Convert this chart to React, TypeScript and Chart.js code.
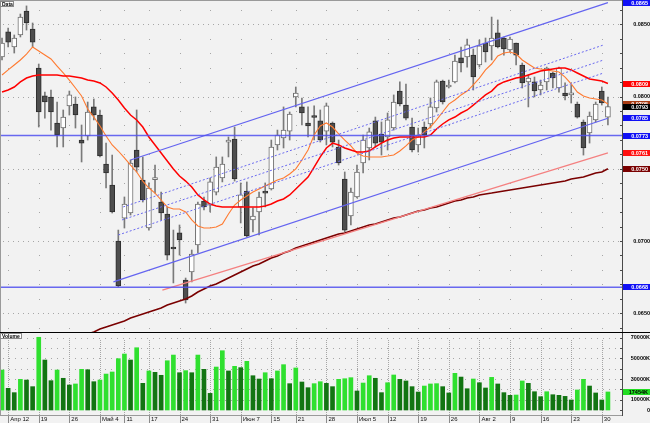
import React, { useEffect, useRef } from "react";
import { Chart, registerables } from "chart.js";

Chart.register(...registerables);

const FONT = '"Liberation Sans", "DejaVu Sans", sans-serif';

// ---- data: daily candles Apr 9 .. Aug 31 ----
const weekTickIndex = [1, 6, 11, 16, 20, 24, 29, 34, 39, 44, 48, 53, 58, 63, 68, 73, 78, 83, 88, 93, 98];
const weekTickLabels = ["Апр 12", "19", "26", "Май 4", "11", "17", "24", "31", "Июн 7", "15", "21", "28", "Июл 5", "12", "19", "26", "Авг 2", "9", "16", "23", "30"];

const openP = [
  0.08274, 0.08447, 0.08343, 0.08426, 0.08592, 0.08467, 0.08197, 0.08004, 0.07997, 0.07817,
  0.07782, 0.07935, 0.07948, 0.07699, 0.07727, 0.07928, 0.07872, 0.07533, 0.07388, 0.07000,
  0.07159, 0.07194, 0.07630, 0.07422, 0.07090, 0.07425, 0.07270, 0.07187, 0.06952, 0.07056,
  0.06730, 0.06786, 0.06973, 0.07277, 0.07249, 0.07339, 0.07436, 0.07685, 0.07706, 0.07236,
  0.07346, 0.07146, 0.07201, 0.07339, 0.07360, 0.07665, 0.07713, 0.07761, 0.07997, 0.07928,
  0.07817, 0.07858, 0.07831, 0.07761, 0.07817, 0.07651, 0.07429, 0.07173, 0.07305, 0.07540,
  0.07644, 0.07831, 0.07741, 0.07720, 0.07782, 0.08038, 0.07941, 0.07789, 0.07665, 0.07789,
  0.07810, 0.07921, 0.08107, 0.08066, 0.08101, 0.08267, 0.08274, 0.08287, 0.08218, 0.08370,
  0.08350, 0.08440, 0.08405, 0.08322, 0.08370, 0.08218, 0.08101, 0.08101, 0.08045, 0.08101,
  0.08163, 0.08059, 0.08024, 0.08011, 0.07948, 0.07824, 0.07748, 0.07838, 0.08038, 0.07858,
];
const highP = [
  0.08405, 0.08474, 0.08426, 0.08571, 0.08627, 0.08509, 0.08225, 0.08031, 0.08045, 0.07962,
  0.07907, 0.08038, 0.07997, 0.07803, 0.07962, 0.07983, 0.07907, 0.07678, 0.07595, 0.07076,
  0.07305, 0.07561, 0.07907, 0.07582, 0.07402, 0.07526, 0.07339, 0.07236, 0.07076, 0.07111,
  0.06744, 0.06938, 0.07270, 0.07305, 0.07436, 0.07582, 0.07582, 0.07720, 0.07789, 0.07402,
  0.07409, 0.07229, 0.07339, 0.07402, 0.07699, 0.07768, 0.07928, 0.07893, 0.08066, 0.07990,
  0.07928, 0.07935, 0.07907, 0.07955, 0.07824, 0.07699, 0.07478, 0.07367, 0.07526, 0.07734,
  0.07782, 0.07858, 0.07824, 0.07886, 0.08011, 0.08101, 0.08087, 0.07851, 0.07782, 0.07824,
  0.07990, 0.08114, 0.08114, 0.08114, 0.08287, 0.08343, 0.08398, 0.08329, 0.08391, 0.08405,
  0.08550, 0.08530, 0.08412, 0.08412, 0.08370, 0.08232, 0.08149, 0.08135, 0.08114, 0.08204,
  0.08170, 0.08204, 0.08094, 0.08080, 0.07962, 0.07838, 0.07893, 0.07962, 0.08066, 0.07997,
];
const lowP = [
  0.08253, 0.08343, 0.08301, 0.08412, 0.08460, 0.08343, 0.07789, 0.07851, 0.07768, 0.07651,
  0.07651, 0.07872, 0.07782, 0.07547, 0.07699, 0.07838, 0.07582, 0.07367, 0.07194, 0.06682,
  0.07090, 0.07180, 0.07478, 0.07270, 0.07076, 0.07332, 0.07146, 0.06869, 0.06710, 0.06903,
  0.06571, 0.06717, 0.06917, 0.07215, 0.07201, 0.07319, 0.07409, 0.07582, 0.07415, 0.07125,
  0.07028, 0.07063, 0.07042, 0.07236, 0.07353, 0.07630, 0.07644, 0.07699, 0.07928, 0.07803,
  0.07720, 0.07699, 0.07685, 0.07665, 0.07651, 0.07526, 0.07063, 0.07111, 0.07298, 0.07471,
  0.07561, 0.07651, 0.07595, 0.07630, 0.07768, 0.07935, 0.07838, 0.07616, 0.07616, 0.07644,
  0.07782, 0.07893, 0.07948, 0.08059, 0.08094, 0.08170, 0.08204, 0.08045, 0.08204, 0.08239,
  0.08253, 0.08336, 0.08287, 0.08308, 0.08218, 0.08059, 0.07928, 0.07997, 0.08011, 0.08045,
  0.08059, 0.08031, 0.07976, 0.07955, 0.07851, 0.07595, 0.07678, 0.07824, 0.07941, 0.07803,
];
const closeP = [
  0.08370, 0.08377, 0.08405, 0.08550, 0.08509, 0.08377, 0.07893, 0.07962, 0.07893, 0.07734,
  0.07858, 0.08011, 0.07872, 0.07678, 0.07893, 0.07872, 0.07589, 0.07471, 0.07201, 0.06689,
  0.07256, 0.07540, 0.07512, 0.07284, 0.07367, 0.07429, 0.07194, 0.06903, 0.06945, 0.07007,
  0.06592, 0.06910, 0.07256, 0.07236, 0.07409, 0.07512, 0.07533, 0.07688, 0.07429, 0.07319,
  0.07035, 0.07173, 0.07305, 0.07332, 0.07651, 0.07734, 0.07768, 0.07879, 0.08024, 0.07886,
  0.07796, 0.07855, 0.07699, 0.07935, 0.07685, 0.07540, 0.07076, 0.07339, 0.07478, 0.07699,
  0.07755, 0.07678, 0.07685, 0.07838, 0.07962, 0.07948, 0.07851, 0.07630, 0.07734, 0.07734,
  0.07928, 0.08101, 0.07962, 0.08080, 0.08246, 0.08232, 0.08357, 0.08135, 0.08350, 0.08308,
  0.08405, 0.08343, 0.08329, 0.08398, 0.08287, 0.08094, 0.08128, 0.08038, 0.08080, 0.08197,
  0.08128, 0.08197, 0.08004, 0.08014, 0.07858, 0.07644, 0.07865, 0.07948, 0.07955, 0.07930,
];
const volumeK = [
  38700, 21000, 16800, 29700, 29000, 22600, 70400, 48400, 28400, 38700,
  30700, 24200, 25200, 39400, 39000, 27400, 29000, 34800, 36800, 49700,
  54200, 48400, 60300, 25800, 37800, 36500, 33600, 47700, 53200, 36100,
  38100, 36100, 53200, 39400, 16100, 41600, 57400, 37800, 42300, 41000,
  47100, 33200, 30000, 36100, 30300, 37800, 43900, 25500, 40700, 27100,
  21600, 25500, 27400, 25800, 22600, 29700, 30300, 31300, 18400, 26100,
  33200, 30700, 16800, 26400, 33900, 29700, 28100, 22600, 17400, 23200,
  25200, 25500, 22600, 16500, 35500, 31900, 20600, 30000, 26400, 21300,
  31600, 25200, 16800, 14200, 14500, 28100, 25800, 17700, 12900, 17700,
  14800, 14200, 13200, 9700, 19400, 29700, 23200, 16500, 9700, 17454,
];
const maFast = [
  0.08149, 0.08184, 0.08218, 0.08253, 0.08294, 0.08343, 0.08315, 0.08287, 0.08260, 0.08211,
  0.08163, 0.08114, 0.08059, 0.08004, 0.07914, 0.07858, 0.07796, 0.07727, 0.07665, 0.07623,
  0.07575, 0.07526, 0.07478, 0.07415, 0.07367, 0.07332, 0.07284, 0.07236, 0.07222, 0.07222,
  0.07201, 0.07146, 0.07104, 0.07090, 0.07090, 0.07097, 0.07118, 0.07187, 0.07249, 0.07284,
  0.07312, 0.07339, 0.07360, 0.07381, 0.07402, 0.07422, 0.07436, 0.07464, 0.07499, 0.07561,
  0.07630, 0.07734, 0.07796, 0.07817, 0.07789, 0.07741, 0.07699, 0.07658, 0.07609, 0.07588,
  0.07582, 0.07582, 0.07582, 0.07588, 0.07595, 0.07623, 0.07658, 0.07699, 0.07720, 0.07755,
  0.07789, 0.07838, 0.07893, 0.07948, 0.07976, 0.08011, 0.08038, 0.08080, 0.08128, 0.08184,
  0.08225, 0.08281, 0.08301, 0.08308, 0.08294, 0.08253, 0.08225, 0.08197, 0.08191, 0.08184,
  0.08177, 0.08170, 0.08135, 0.08087, 0.08031, 0.08004, 0.07990, 0.07983, 0.07976, 0.07948,
];
const maMid = [
  0.08031, 0.08045, 0.08066, 0.08101, 0.08128, 0.08142, 0.08149, 0.08149, 0.08149, 0.08149,
  0.08142, 0.08142, 0.08135, 0.08128, 0.08114, 0.08107, 0.08094, 0.08066, 0.08024, 0.07976,
  0.07921, 0.07872, 0.07838, 0.07789, 0.07720, 0.07665, 0.07609, 0.07554, 0.07499, 0.07450,
  0.07415, 0.07374, 0.07319, 0.07284, 0.07256, 0.07242, 0.07236, 0.07236, 0.07236, 0.07236,
  0.07236, 0.07236, 0.07236, 0.07242, 0.07256, 0.07277, 0.07291, 0.07319, 0.07360, 0.07402,
  0.07443, 0.07512, 0.07582, 0.07644, 0.07678, 0.07665, 0.07644, 0.07630, 0.07616, 0.07616,
  0.07623, 0.07651, 0.07678, 0.07699, 0.07713, 0.07720, 0.07720, 0.07720, 0.07720, 0.07720,
  0.07734, 0.07775, 0.07810, 0.07838, 0.07858, 0.07886, 0.07907, 0.07941, 0.07976, 0.08011,
  0.08038, 0.08080, 0.08101, 0.08114, 0.08128, 0.08135, 0.08149, 0.08163, 0.08177, 0.08184,
  0.08191, 0.08198, 0.08198, 0.08184, 0.08163, 0.08142, 0.08121, 0.08114, 0.08107, 0.08090,
];
const maSlow = [
  null, null, null, null, null, null, null, null, null, null,
  null, null, 0.06322, 0.06343, 0.06357, 0.06371, 0.06391, 0.06405, 0.06419, 0.06433,
  0.06447, 0.06467, 0.06481, 0.06495, 0.06509, 0.06523, 0.06537, 0.06557, 0.06571, 0.06585,
  0.06599, 0.06620, 0.06647, 0.06668, 0.06689, 0.06703, 0.06724, 0.06744, 0.06765, 0.06786,
  0.06807, 0.06827, 0.06841, 0.06862, 0.06883, 0.06896, 0.06917, 0.06931, 0.06952, 0.06966,
  0.06980, 0.06993, 0.07007, 0.07021, 0.07035, 0.07049, 0.07056, 0.07069, 0.07083, 0.07097,
  0.07111, 0.07118, 0.07132, 0.07146, 0.07159, 0.07166, 0.07180, 0.07194, 0.07208, 0.07215,
  0.07229, 0.07236, 0.07249, 0.07263, 0.07277, 0.07284, 0.07298, 0.07305, 0.07319, 0.07326,
  0.07332, 0.07339, 0.07346, 0.07353, 0.07360, 0.07367, 0.07374, 0.07381, 0.07388, 0.07395,
  0.07402, 0.07409, 0.07415, 0.07429, 0.07436, 0.07443, 0.07457, 0.07471, 0.07478, 0.07500,
];

// drawn channel / trend objects (bar index, price)
const channelUpper = [{ x: 21, y: 0.07561 }, { x: 99, y: 0.0865 }];
const channelLower = [{ x: 18.2, y: 0.06717 }, { x: 99, y: 0.0785 }];
const channelInnerA = [{ x: 19.8, y: 0.07236 }, { x: 98.3, y: 0.08357 }];
const channelMid = [{ x: 19.6, y: 0.07146 }, { x: 98.3, y: 0.08253 }];
const channelInnerC = [{ x: 19, y: 0.07042 }, { x: 98.3, y: 0.08163 }];
const trendPink = [{ x: 26.2, y: 0.06661 }, { x: 99, y: 0.0761 }];
const levelUpper = 0.0773;
const levelLower = 0.0668;

const priceLabelTicks = [0.065, 0.07, 0.075, 0.08, 0.085];
const volumeLabelTicks = [0, 10000, 30000, 50000, 70000];

// scale ranges
const X_MIN = -0.33;
const X_MAX = 101.3;
const PRICE_MIN = 0.063636;
const PRICE_MAX = 0.08668;
const VOL_MIN = -4841;
const VOL_MAX = 73582;

const BG = "#f2f2f2";
const DOT = "#a6a6a6";

function drawTag(ctx: any, x: number, y: number, w: number, h: number, text: string) {
  ctx.fillStyle = "#ffffff";
  ctx.fillRect(x, y, w, h);
  ctx.strokeStyle = "#8a8a8a";
  ctx.lineWidth = 1;
  ctx.strokeRect(x + 0.5, y + 0.5, w - 1, h - 1);
  ctx.fillStyle = "#000";
  ctx.font = `bold 5px ${FONT}`;
  ctx.textAlign = "left";
  ctx.textBaseline = "middle";
  ctx.fillText(text, x + 2, y + h / 2 + 0.5);
}

function drawValueBox(ctx: any, chart: any, value: number, text: string, bg: string, fg: string) {
  const a = chart.chartArea;
  const y = chart.scales.y;
  let py = y.getPixelForValue(value);
  py = Math.max(3, Math.min(chart.height - 4, py));
  const top = Math.round(py - 3);
  ctx.fillStyle = bg;
  ctx.fillRect(a.right + 1, top, chart.width - a.right - 1, 6);
  ctx.fillStyle = fg;
  ctx.font = `bold 5.5px ${FONT}`;
  ctx.textAlign = "right";
  ctx.textBaseline = "middle";
  ctx.fillText(text, chart.width - 2, top + 3.3);
}

const priceDecor = {
  id: "priceDecor",
  beforeDraw(chart: any) {
    const { ctx, width, height } = chart;
    ctx.save();
    ctx.fillStyle = BG;
    ctx.fillRect(0, 0, width, height);
    ctx.restore();
  },
  beforeDatasetsDraw(chart: any) {
    const { ctx, chartArea: a } = chart;
    const x = chart.scales.x;
    const y = chart.scales.y;
    ctx.save();
    ctx.fillStyle = DOT;
    const first = Math.ceil(y.min * 1000);
    const last = Math.floor(y.max * 1000);
    for (let k = first; k <= last; k++) {
      const py = Math.round(y.getPixelForValue(k / 1000));
      if (k % 5 === 0) {
        for (let px = a.left + 3; px < a.right - 1; px += 5) ctx.fillRect(px, py, 1, 1);
      } else {
        for (const idx of weekTickIndex) ctx.fillRect(Math.round(x.getPixelForValue(idx)), py, 1, 1);
      }
    }
    ctx.restore();
  },
  afterDraw(chart: any) {
    const { ctx, width, height, chartArea: a } = chart;
    const y = chart.scales.y;
    ctx.save();
    ctx.fillStyle = "#9a9a9a";
    ctx.fillRect(0, 0, width, 1);
    ctx.fillRect(0, 0, 1, height);
    ctx.fillStyle = "#4a4a4a";
    ctx.fillRect(a.right, 0, 1, height);
    const first = Math.ceil(y.min * 1000);
    const last = Math.floor(y.max * 1000);
    for (let k = first; k <= last; k++) {
      const py = Math.round(y.getPixelForValue(k / 1000));
      ctx.fillRect(a.right - 2, py, 2, 1);
    }
    ctx.fillStyle = "#000";
    ctx.fillRect(0, height - 1, width, 1);

    const n = closeP.length - 1;
    const boxes: [number, string, string][] = [
      [maFast[n], "#a83c14", "#fff"],
      [channelUpper[1].y, "#1010f5", "#fff"],
      [maMid[n], "#ff0000", "#fff"],
      [closeP[n], "#000000", "#fff"],
      [channelLower[1].y, "#1010f5", "#fff"],
      [levelUpper, "#1010f5", "#fff"],
      [trendPink[1].y, "#ff1010", "#fff"],
      [maSlow[n] as number, "#7a0000", "#fff"],
      [levelLower, "#1010f5", "#fff"],
    ];
    for (const [v, bg, fg] of boxes) drawValueBox(ctx, chart, v, v.toFixed(4), bg, fg);

    drawTag(ctx, 0, 1, 14, 6, "Data");
    ctx.restore();
  },
};

const volumeDecor = {
  id: "volumeDecor",
  beforeDraw(chart: any) {
    const { ctx, width, height } = chart;
    ctx.save();
    ctx.fillStyle = BG;
    ctx.fillRect(0, 0, width, height);
    ctx.restore();
  },
  beforeDatasetsDraw(chart: any) {
    const { ctx, chartArea: a } = chart;
    const x = chart.scales.x;
    const y = chart.scales.y;
    ctx.save();
    ctx.fillStyle = DOT;
    for (const idx of weekTickIndex) {
      const px = Math.round(x.getPixelForValue(idx));
      for (let py = a.top + 6; py < a.bottom; py += 2) ctx.fillRect(px, py, 1, 1);
    }
    for (let v = 10000; v <= 70000; v += 10000) {
      const py = Math.round(y.getPixelForValue(v));
      for (let px = a.left + 3; px < a.right - 1; px += 6) ctx.fillRect(px, py, 1, 1);
    }
    ctx.restore();
  },
  afterDraw(chart: any) {
    const { ctx, width, chartArea: a } = chart;
    const x = chart.scales.x;
    const y = chart.scales.y;
    ctx.save();
    ctx.fillStyle = "#9a9a9a";
    ctx.fillRect(0, 0, 1, a.bottom);
    ctx.fillRect(0, a.bottom, a.right, 1);
    ctx.fillStyle = "#4a4a4a";
    ctx.fillRect(a.right, 0, 1, a.bottom + 1);
    for (let v = 0; v <= 70000; v += 10000) {
      const py = Math.round(y.getPixelForValue(v));
      ctx.fillRect(a.right - 2, py, 2, 1);
    }
    ctx.fillStyle = "#8a8a8a";
    for (const idx of weekTickIndex) {
      const px = Math.round(x.getPixelForValue(idx));
      ctx.fillRect(px, a.bottom + 1, 1, 7);
    }
    const n = volumeK.length - 1;
    const v = volumeK[n];
    let py = Math.round(y.getPixelForValue(v) - 3);
    ctx.fillStyle = "#22dd22";
    ctx.fillRect(a.right + 1, py, width - a.right - 1, 6);
    ctx.fillStyle = "#000";
    ctx.font = `bold 5.5px ${FONT}`;
    ctx.textAlign = "right";
    ctx.textBaseline = "middle";
    ctx.fillText(`${v}K`, width - 2, py + 3.3);

    drawTag(ctx, 0, 0, 22, 6, "Volume");
    ctx.restore();
  },
};

function lineSet(data: any[], color: string, width: number, dash: number[] = []) {
  return {
    type: "line",
    data,
    borderColor: color,
    borderWidth: width,
    borderDash: dash,
    pointRadius: 0,
    tension: 0,
    fill: false,
    order: 0,
  };
}

export default function App() {
  const priceRef = useRef<HTMLCanvasElement | null>(null);
  const volRef = useRef<HTMLCanvasElement | null>(null);

  useEffect(() => {
    const idx = closeP.map((_, i) => i);
    const bull = idx.map((i) => closeP[i] >= openP[i]);

    const priceChart = new Chart(priceRef.current as any, {
      type: "bar",
      data: {
        datasets: [
          lineSet([{ x: X_MIN, y: levelUpper }, { x: X_MAX, y: levelUpper }], "rgba(80,80,240,0.85)", 1.4),
          lineSet([{ x: X_MIN, y: levelLower }, { x: X_MAX, y: levelLower }], "rgba(80,80,240,0.85)", 1.4),
          lineSet(channelUpper, "#6464f0", 1.2),
          lineSet(channelLower, "#6464f0", 1.2),
          lineSet(channelInnerA, "#6a6af0", 1, [2, 2]),
          lineSet(channelMid, "#6a6af0", 1, [2, 2]),
          lineSet(channelInnerC, "#6a6af0", 1, [2, 2]),
          lineSet(trendPink, "#f48080", 1.3),
          lineSet(maSlow.map((v, i) => ({ x: i, y: v })), "#7a0000", 1.6),
          lineSet(maMid.map((v, i) => ({ x: i, y: v })), "#ff0000", 1.5),
          lineSet(maFast.map((v, i) => ({ x: i, y: v })), "#ff7a30", 1.1),
          {
            type: "bar",
            data: idx.map((i) => ({ x: i, y: [openP[i], closeP[i]] })),
            backgroundColor: idx.map((i) => (bull[i] ? "#ffffff" : "#4e4e4e")),
            borderColor: idx.map((i) => (bull[i] ? "#6e6e6e" : "#2e2e2e")),
            borderWidth: 1,
            borderSkipped: false,
            barThickness: 5,
            minBarLength: 2,
            grouped: false,
            order: 1,
          },
          {
            type: "bar",
            data: idx.map((i) => ({ x: i, y: [lowP[i], highP[i]] })),
            backgroundColor: "#7a7a7a",
            borderWidth: 0,
            barThickness: 1,
            grouped: false,
            order: 2,
          },
        ] as any,
      },
      options: {
        responsive: false,
        animation: false,
        events: [],
        layout: { padding: 0 },
        plugins: { legend: { display: false }, tooltip: { enabled: false } },
        scales: {
          x: {
            type: "linear",
            min: X_MIN,
            max: X_MAX,
            offset: false,
            display: false,
            grid: { display: false },
          },
          y: {
            type: "linear",
            position: "right",
            min: PRICE_MIN,
            max: PRICE_MAX,
            grid: { display: false, drawTicks: false },
            border: { display: false },
            afterBuildTicks: (s: any) => {
              s.ticks = priceLabelTicks.map((v) => ({ value: v }));
            },
            afterFit: (s: any) => {
              s.width = 28;
              s.paddingTop = 0;
              s.paddingBottom = 0;
            },
            ticks: {
              padding: 9,
              crossAlign: "far",
              color: "#000",
              font: { family: FONT, size: 5.5, weight: "bold" },
              callback: (v: any) => Number(v).toFixed(4),
            },
          },
        },
      } as any,
      plugins: [priceDecor],
    });

    const volChart = new Chart(volRef.current as any, {
      type: "bar",
      data: {
        datasets: [
          {
            data: volumeK.map((v, i) => ({ x: i, y: v })),
            backgroundColor: volumeK.map((v, i) => (i === 0 || v >= volumeK[i - 1] ? "#2fe02f" : "#127512")),
            borderWidth: 0,
            barThickness: 4,
            grouped: false,
          },
        ] as any,
      },
      options: {
        responsive: false,
        animation: false,
        events: [],
        layout: { padding: { top: 1, left: 0, right: 0, bottom: 0 } },
        plugins: { legend: { display: false }, tooltip: { enabled: false } },
        scales: {
          x: {
            type: "linear",
            min: X_MIN,
            max: X_MAX,
            offset: false,
            position: "bottom",
            grid: { display: false, drawTicks: false },
            border: { display: false },
            afterBuildTicks: (s: any) => {
              s.ticks = weekTickIndex.map((v) => ({ value: v }));
            },
            afterFit: (s: any) => {
              s.height = 8;
              s.paddingLeft = 0;
              s.paddingRight = 0;
            },
            ticks: {
              autoSkip: false,
              maxRotation: 0,
              minRotation: 0,
              align: "start",
              labelOffset: 2,
              padding: 1,
              color: "#111",
              font: { family: FONT, size: 6 },
              callback: (_v: any, i: number) => weekTickLabels[i],
            },
          },
          y: {
            type: "linear",
            position: "right",
            min: VOL_MIN,
            max: VOL_MAX,
            grid: { display: false, drawTicks: false },
            border: { display: false },
            afterBuildTicks: (s: any) => {
              s.ticks = volumeLabelTicks.map((v) => ({ value: v }));
            },
            afterFit: (s: any) => {
              s.width = 28;
              s.paddingTop = 0;
              s.paddingBottom = 0;
            },
            ticks: {
              padding: 7,
              crossAlign: "far",
              color: "#000",
              font: { family: FONT, size: 5.5, weight: "bold" },
              callback: (v: any) => (Number(v) === 0 ? "0" : `${v}K`),
            },
          },
        },
      } as any,
      plugins: [volumeDecor],
    });

    return () => {
      priceChart.destroy();
      volChart.destroy();
    };
  }, []);

  return (
    <div style={{ position: "fixed", left: 0, top: 0, width: 650, height: 423, background: BG }}>
      <canvas ref={priceRef} width={650} height={333} style={{ position: "absolute", left: 0, top: 0, display: "block" }} />
      <canvas ref={volRef} width={650} height={90} style={{ position: "absolute", left: 0, top: 333, display: "block" }} />
    </div>
  );
}
